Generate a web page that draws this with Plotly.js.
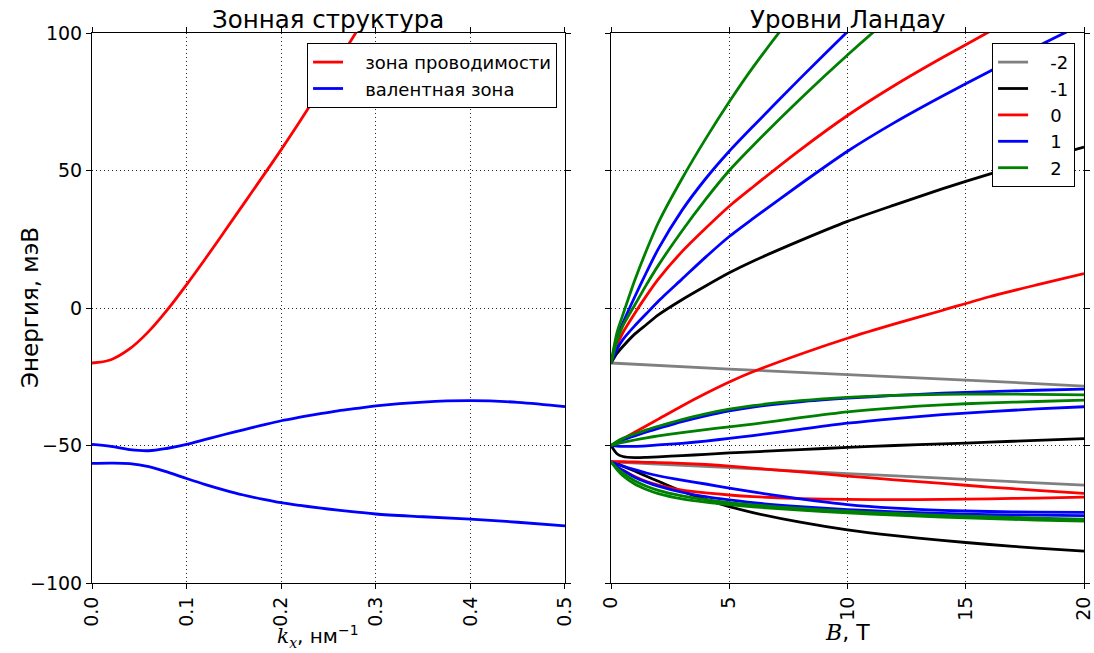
<!DOCTYPE html>
<html>
<head>
<meta charset="utf-8">
<script src="https://cdn.plot.ly/plotly-3.0.1.min.js"></script>
<style>html,body{margin:0;padding:0;background:#fff;}#chart{width:1094px;height:653px;}</style>
</head>
<body>
<div id="chart"></div>
<script>
// ---------- Left panel: band structure ----------
const kx = [0, 0.02, 0.04, 0.06, 0.08, 0.1, 0.12, 0.14, 0.16, 0.18, 0.2, 0.22, 0.24, 0.26, 0.28, 0.3, 0.35, 0.4, 0.45, 0.5];
const conduction = [-20, -18.8, -14.8, -8.5, -0.5, 8.5, 18, 27.8, 37.7, 47.6, 57.6, 68, 78.7, 89.6, 100.7, 112, null, null, null, null];
const valenceUpper = [-49.6, -50.3, -51.5, -51.9, -51, -49.6, -47.8, -46, -44.3, -42.6, -41, -39.7, -38.5, -37.4, -36.5, -35.6, -34.2, -33.7, -34.3, -35.9];
const valenceLower = [-56.5, -56.4, -56.6, -57.7, -59.7, -62, -64.2, -66.2, -68, -69.5, -70.8, -71.8, -72.7, -73.5, -74.2, -74.9, -75.9, -76.8, -77.9, -79.2];
const bandNames = ["зона проводимости", "валентная зона"];

// ---------- Right panel: Landau levels ----------
const B = [0, 0.25, 0.5, 1, 1.5, 2, 3, 4, 5, 6, 8, 10, 12, 14, 16, 18, 20];
const grayB = [0, 5, 10, 15, 20];
const nM2_a = [-20, -22.2, -24.2, -26.2, -28.4];
const nM2_b = [-55.9, -58.0, -60.2, -62.3, -64.4];

const nM1_fan = [-20, -16.5, -14, -9.5, -6, -2.5, 3, 8, 12.8, 17, 24.5, 31.5, 37.5, 43.3, 48.7, 53.7, 58.5];
const nM1_mid = [-50, -53, -54, -54.4, -54.3, -54.1, -53.7, -53.2, -52.7, -52.3, -51.5, -50.7, -50, -49.4, -48.8, -48.1, -47.5];
const nM1_low = [-55.9, -56.6, -57.5, -59.3, -61.2, -63, -66.6, -69.6, -72.2, -74.4, -77.9, -80.7, -82.8, -84.5, -86, -87.3, -88.4];

const n0_fan = [-20, -13.5, -9, -2, 4.5, 10.5, 20.5, 29, 37, 44, 57.5, 70, 81, 91, 100.5, 110, 119];
const n0_mid = [-50, -48.8, -47.6, -45.2, -42.8, -40.4, -35.6, -31.1, -26.9, -23.2, -16.8, -11, -5.8, -0.9, 4.1, 8.4, 12.5];
const n0_lowA = [-55.9, -55.9, -55.9, -56, -56.1, -56.2, -56.5, -56.9, -57.5, -58.2, -59.6, -61.1, -62.5, -63.8, -65.1, -66.3, -67.4];
const n0_lowB = [-55.9, -57.8, -59, -61.3, -63.1, -64.4, -66.2, -67.2, -68, -68.6, -69.3, -69.6, -69.7, -69.6, -69.4, -69.1, -68.8];

const n1_fanA = [-20, -11, -5.5, 4, 13, 21.5, 35.5, 47, 57, 66, 83.5, 100.5, 117, 133, 149, 164, 178];
const n1_fanB = [-20, -15, -11.5, -6.5, -2, 2.5, 10.5, 18.5, 26, 32.5, 45, 57, 67.5, 77, 86, 95, 103.5];
const n1_midA = [-50, -49, -48, -46.5, -45.1, -43.8, -41.3, -39.2, -37.4, -36, -34.1, -32.8, -31.8, -31, -30.4, -29.9, -29.5];
const n1_midB = [-50, -50.2, -50.3, -50.3, -50.1, -49.8, -49.2, -48.4, -47.4, -46.4, -44.1, -41.9, -40.2, -38.8, -37.7, -36.7, -35.9];
const n1_lowA = [-55.9, -56.8, -57.5, -58.8, -60, -61, -62.6, -64, -65.5, -66.9, -69.4, -71.5, -72.8, -73.6, -74, -74.2, -74.3];
const n1_lowB = [-55.9, -57.8, -59, -61.5, -63.3, -64.8, -67, -68.6, -69.8, -70.8, -72.2, -73.3, -74.1, -74.7, -75.1, -75.3, -75.5];

const n2_fanA = [-20, -9, -2.5, 10, 21, 31, 47, 61.5, 75, 87.5, 110, 131, 151, 170, 188, 206, 224];
const n2_fanB = [-20, -12, -6.5, 1, 8.5, 15.5, 28, 39.5, 50, 59, 76, 92, 107, 121, 135, 148, 161];
const n2_midA = [-50, -48.5, -47.4, -45.8, -44.3, -43, -40.6, -38.5, -36.8, -35.5, -33.7, -32.5, -31.8, -31.4, -31.3, -31.4, -31.6];
const n2_midB = [-50, -49.4, -48.9, -48, -47.2, -46.5, -45.3, -44.2, -43.2, -42.2, -39.9, -37.8, -36.3, -35.2, -34.5, -34, -33.5];
const n2_lowA = [-55.9, -58.3, -60, -62.8, -64.8, -66.3, -68.3, -69.7, -70.8, -71.6, -72.9, -73.9, -74.7, -75.4, -75.9, -76.4, -76.8];
const n2_lowB = [-55.9, -58.8, -61, -64, -66, -67.5, -69.4, -70.6, -71.5, -72.3, -73.5, -74.5, -75.3, -76, -76.6, -77.1, -77.5];

const levelNames = ["-2", "-1", "0", "1", "2"];
const levelColors = ["#808080", "#000000", "#ff0000", "#0000ff", "#008000"];

const tickY = [-100, -50, 0, 50, 100];
const tickK = [0, 0.1, 0.2, 0.3, 0.4, 0.5];
const tickB = [0, 5, 10, 15, 20];

// ---------- traces ----------
const FONT = "DejaVu Sans, Liberation Sans, sans-serif";
const LW = 2.8;
const PAD = "\u00a0\u00a0\u00a0";
const traces = [];
function add(x, y, color, name, show, xa, ya, leg, group, sm) {
  traces.push({
    type: "scatter", mode: "lines", x: x, y: y,
    line: {color: color, width: LW, shape: "spline", smoothing: sm},
    name: PAD + name, showlegend: show, legendgroup: group,
    xaxis: xa, yaxis: ya, legend: leg, hoverinfo: "skip"
  });
}
add(kx, conduction, "#ff0000", bandNames[0], true, "x", "y", "legend", "c", 1);
add(kx, valenceUpper, "#0000ff", bandNames[1], true, "x", "y", "legend", "v", 1);
add(kx, valenceLower, "#0000ff", bandNames[1], false, "x", "y", "legend", "v", 1);

const groups = [
  [[grayB, nM2_a], [grayB, nM2_b]],
  [[B, nM1_fan], [B, nM1_mid], [B, nM1_low]],
  [[B, n0_fan], [B, n0_mid], [B, n0_lowA], [B, n0_lowB]],
  [[B, n1_fanA], [B, n1_fanB], [B, n1_midA], [B, n1_midB], [B, n1_lowA], [B, n1_lowB]],
  [[B, n2_fanA], [B, n2_fanB], [B, n2_midA], [B, n2_midB], [B, n2_lowA], [B, n2_lowB]]
];
groups.forEach((g, i) => {
  g.forEach((c, j) => add(c[0], c[1], levelColors[i], levelNames[i], j === 0, "x2", "y2", "legend2", "n" + i, 0.7));
});

const axisCommon = {
  showline: true, linecolor: "#000", linewidth: 1, mirror: "allticks",
  ticks: "outside", ticklen: 5, tickcolor: "#000", tickwidth: 1,
  showgrid: true, gridcolor: "rgba(0,0,0,0.85)", gridwidth: 1, griddash: "1px,3px",
  zeroline: false, tickfont: {family: FONT, size: 19, color: "#000"},
  ticklabeloverflow: "allow"
};

const layout = {
  width: 1094, height: 653,
  margin: {l: 92, r: 10, t: 33, b: 70, pad: 0},
  paper_bgcolor: "#fff", plot_bgcolor: "#fff",
  font: {family: FONT, color: "#000"},
  xaxis: Object.assign({}, axisCommon, {
    domain: [0, 0.4768], range: [0, 0.5], tickvals: tickK, tickformat: ".1f", tickangle: -90
  }),
  yaxis: Object.assign({}, axisCommon, {
    domain: [0, 1], range: [-100, 100], tickvals: tickY,
    ticktext: tickY.map(v => v < 0 ? "−" + Math.abs(v) : String(v))
  }),
  xaxis2: Object.assign({}, axisCommon, {
    domain: [0.5232, 1], range: [0, 20], tickvals: tickB, tickangle: -90, anchor: "y2"
  }),
  yaxis2: Object.assign({}, axisCommon, {
    domain: [0, 1], range: [-100, 100], tickvals: tickY, showticklabels: false, anchor: "x2"
  }),
  legend: {
    x: 0.4688, y: 0.982, xanchor: "right", yanchor: "top",
    bgcolor: "#fff", bordercolor: "#000", borderwidth: 1,
    font: {family: FONT, size: 18, color: "#000"},
    traceorder: "grouped", tracegroupgap: 0, itemwidth: 30
  },
  legend2: {
    x: 0.991, y: 0.982, xanchor: "right", yanchor: "top",
    bgcolor: "#fff", bordercolor: "#000", borderwidth: 1,
    font: {family: FONT, size: 18, color: "#000"},
    traceorder: "grouped", tracegroupgap: 0, itemwidth: 30
  },
  annotations: [
    {text: "Зонная структура", xref: "paper", yref: "paper", x: 0.2384, y: 1, xanchor: "center", yanchor: "bottom", yshift: -3,
     showarrow: false, font: {family: FONT, size: 24.5, color: "#000"}},
    {text: "Уровни Ландау", xref: "paper", yref: "paper", x: 0.7616, y: 1, xanchor: "center", yanchor: "bottom", yshift: -3,
     showarrow: false, font: {family: FONT, size: 24.5, color: "#000"}},
    {text: "Энергия, мэВ", xref: "paper", yref: "paper", x: -0.0625, y: 0.5, xanchor: "center", yanchor: "middle",
     textangle: -90, showarrow: false, font: {family: FONT, size: 23, color: "#000"}},
    {text: "<span style=\"font-family:'DejaVu Serif'\"><i>k</i><sub><i>x</i></sub></span>, нм<sup>−1</sup>",
     xref: "paper", yref: "paper", x: 0.2278, y: -0.097, xanchor: "center", yanchor: "middle",
     showarrow: false, font: {family: FONT, size: 20, color: "#000"}},
    {text: "<span style=\"font-family:'DejaVu Serif'\"><i>B</i></span>, Т",
     xref: "paper", yref: "paper", x: 0.7616, y: -0.09, xanchor: "center", yanchor: "middle",
     showarrow: false, font: {family: FONT, size: 22, color: "#000"}}
  ]
};

Plotly.newPlot("chart", traces, layout, {staticPlot: true, displayModeBar: false});
</script>
</body>
</html>
